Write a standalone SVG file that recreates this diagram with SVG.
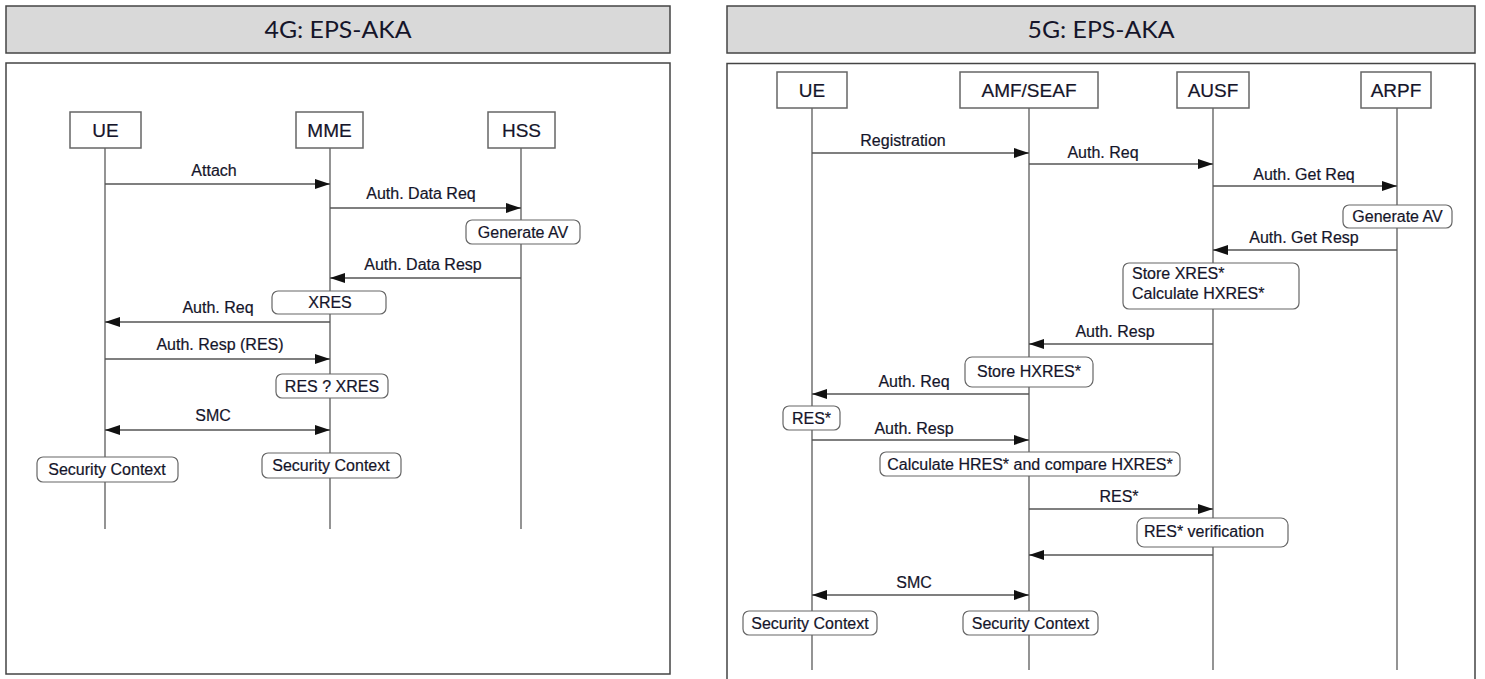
<svg xmlns="http://www.w3.org/2000/svg" width="1485" height="679" viewBox="0 0 1485 679">
  <defs>
    <marker id="arr" viewBox="0 0 15 10" refX="15" refY="5" markerWidth="15" markerHeight="10" markerUnits="userSpaceOnUse" orient="auto-start-reverse">
      <path d="M0,0 L15,5 L0,10 z" fill="#111"/>
    </marker>
    <style>
      .title { fill:#d9d9d9; stroke:#444; stroke-width:1.5; }
      .panel { fill:#fff; stroke:#444; stroke-width:1.5; }
      .ttext { font-family:Lato, "Liberation Sans", sans-serif; font-size:23px; fill:#15152a; text-anchor:middle; }
      .actor { fill:#fff; stroke:#666; stroke-width:1.5; }
      .atext { font-family:"Liberation Sans", Arial, sans-serif; font-size:19px; fill:#15152a; stroke:#15152a; stroke-width:0.2; text-anchor:middle; }
      .life { stroke:#666; stroke-width:1.4; fill:none; }
      .msg { stroke:#555; stroke-width:1.5; fill:none; marker-end:url(#arr); }
      .both { marker-start:url(#arr); }
      .lbl { font-family:"Liberation Sans", Arial, sans-serif; font-size:16px; fill:#15152a; stroke:#15152a; stroke-width:0.2; text-anchor:middle; }
      .note { fill:#fff; stroke:#666; stroke-width:1.2; }
      .ntext { font-family:"Liberation Sans", Arial, sans-serif; font-size:16px; fill:#15152a; stroke:#15152a; stroke-width:0.2; text-anchor:middle; }
      .ltext { text-anchor:start; }
    </style>
  </defs>

  <!-- ===== 4G panel ===== -->
  <g id="panel-4g">
    <rect class="title" x="6" y="6" width="664" height="47"/>
    <text class="ttext" x="338" y="38" textLength="147" lengthAdjust="spacingAndGlyphs">4G: EPS-AKA</text>
    <rect class="panel" x="6" y="63" width="664" height="611"/>
  </g>

  <g id="ue-4g">
    <rect class="actor" x="70" y="112" width="71" height="36"/>
    <text class="atext" x="105.5" y="137">UE</text>
  </g>
  <g id="mme-4g">
    <rect class="actor" x="296" y="112" width="67" height="36"/>
    <text class="atext" x="329.5" y="137">MME</text>
  </g>
  <g id="hss-4g">
    <rect class="actor" x="488" y="112" width="67" height="36"/>
    <text class="atext" x="521.5" y="137">HSS</text>
  </g>

  <g id="lifelines-4g">
    <line class="life" x1="105" y1="148" x2="105" y2="529"/>
    <line class="life" x1="330" y1="148" x2="330" y2="529"/>
    <line class="life" x1="521" y1="148" x2="521" y2="529"/>
  </g>

  <g id="notes-4g">
    <g id="n4-genav">
      <rect class="note" x="466" y="220" width="114" height="24" rx="6"/>
      <text class="ntext" x="523" y="238">Generate AV</text>
    </g>
    <g id="n4-xres">
      <rect class="note" x="272" y="291" width="114" height="23" rx="6"/>
      <text class="ntext" x="330" y="308">XRES</text>
    </g>
    <g id="n4-cmp">
      <rect class="note" x="276" y="374" width="112" height="24" rx="6"/>
      <text class="ntext" x="332" y="392">RES ? XRES</text>
    </g>
    <g id="n4-sc-ue">
      <rect class="note" x="37" y="457" width="141" height="25" rx="6"/>
      <text class="ntext" x="107" y="475">Security Context</text>
    </g>
    <g id="n4-sc-mme">
      <rect class="note" x="262" y="453" width="139" height="25" rx="6"/>
      <text class="ntext" x="331" y="471">Security Context</text>
    </g>
  </g>

  <g id="connectors-4g">
    <line class="msg" x1="105" y1="184" x2="330" y2="184"/>
    <text class="lbl" x="214" y="176">Attach</text>
    <line class="msg" x1="330" y1="208" x2="521" y2="208"/>
    <text class="lbl" x="421" y="199">Auth. Data Req</text>
    <line class="msg" x1="521" y1="278" x2="330" y2="278"/>
    <text class="lbl" x="423" y="270">Auth. Data Resp</text>
    <line class="msg" x1="330" y1="322" x2="105" y2="322"/>
    <text class="lbl" x="218" y="313">Auth. Req</text>
    <line class="msg" x1="105" y1="359" x2="330" y2="359"/>
    <text class="lbl" x="220" y="350">Auth. Resp (RES)</text>
    <line class="msg both" x1="105" y1="430" x2="330" y2="430"/>
    <text class="lbl" x="213" y="421">SMC</text>
  </g>

  <!-- ===== 5G panel ===== -->
  <g id="panel-5g">
    <rect class="title" x="727" y="6" width="748" height="47"/>
    <text class="ttext" x="1101" y="38" textLength="147" lengthAdjust="spacingAndGlyphs">5G: EPS-AKA</text>
    <path class="panel" d="M727,685 V63.5 H1475 V685"/>
  </g>

  <g id="ue-5g">
    <rect class="actor" x="777" y="72" width="70" height="36"/>
    <text class="atext" x="812" y="97">UE</text>
  </g>
  <g id="amf-5g">
    <rect class="actor" x="960" y="72" width="138" height="36"/>
    <text class="atext" x="1029" y="97">AMF/SEAF</text>
  </g>
  <g id="ausf-5g">
    <rect class="actor" x="1177" y="72" width="72" height="36"/>
    <text class="atext" x="1213" y="97">AUSF</text>
  </g>
  <g id="arpf-5g">
    <rect class="actor" x="1361" y="72" width="70" height="36"/>
    <text class="atext" x="1396" y="97">ARPF</text>
  </g>

  <g id="lifelines-5g">
    <line class="life" x1="812" y1="108" x2="812" y2="670"/>
    <line class="life" x1="1029" y1="108" x2="1029" y2="670"/>
    <line class="life" x1="1213" y1="108" x2="1213" y2="670"/>
    <line class="life" x1="1397" y1="108" x2="1397" y2="670"/>
  </g>

  <g id="notes-5g">
    <g id="n5-genav">
      <rect class="note" x="1343" y="205" width="109" height="23" rx="6"/>
      <text class="ntext" x="1397.5" y="222">Generate AV</text>
    </g>
    <g id="n5-store-xres">
      <rect class="note" x="1123" y="263" width="176" height="46" rx="6"/>
      <text class="ntext ltext" x="1132" y="279">Store XRES*</text>
      <text class="ntext ltext" x="1132" y="299">Calculate HXRES*</text>
    </g>
    <g id="n5-store-hxres">
      <rect class="note" x="965" y="357" width="128" height="30" rx="7"/>
      <text class="ntext" x="1029" y="377">Store HXRES*</text>
    </g>
    <g id="n5-res">
      <rect class="note" x="783" y="406" width="57" height="24" rx="6"/>
      <text class="ntext" x="811.5" y="424">RES*</text>
    </g>
    <g id="n5-calc">
      <rect class="note" x="880" y="452" width="300" height="24" rx="6"/>
      <text class="ntext" x="1030" y="470">Calculate HRES* and compare HXRES*</text>
    </g>
    <g id="n5-verif">
      <rect class="note" x="1137" y="518" width="151" height="29" rx="7"/>
      <text class="ntext ltext" x="1144" y="537">RES* verification</text>
    </g>
    <g id="n5-sc-ue">
      <rect class="note" x="743" y="611" width="134" height="24" rx="6"/>
      <text class="ntext" x="810" y="629">Security Context</text>
    </g>
    <g id="n5-sc-amf">
      <rect class="note" x="963" y="611" width="135" height="24" rx="6"/>
      <text class="ntext" x="1030.5" y="629">Security Context</text>
    </g>
  </g>

  <g id="connectors-5g">
    <line class="msg" x1="812" y1="153" x2="1029" y2="153"/>
    <text class="lbl" x="903" y="146">Registration</text>
    <line class="msg" x1="1029" y1="164" x2="1213" y2="164"/>
    <text class="lbl" x="1103" y="158">Auth. Req</text>
    <line class="msg" x1="1213" y1="186" x2="1397" y2="186"/>
    <text class="lbl" x="1304" y="180">Auth. Get Req</text>
    <line class="msg" x1="1397" y1="250" x2="1213" y2="250"/>
    <text class="lbl" x="1304" y="243">Auth. Get Resp</text>
    <line class="msg" x1="1213" y1="344" x2="1029" y2="344"/>
    <text class="lbl" x="1115" y="337">Auth. Resp</text>
    <line class="msg" x1="1029" y1="394" x2="812" y2="394"/>
    <text class="lbl" x="914" y="387">Auth. Req</text>
    <line class="msg" x1="812" y1="440" x2="1029" y2="440"/>
    <text class="lbl" x="914" y="434">Auth. Resp</text>
    <line class="msg" x1="1029" y1="509" x2="1213" y2="509"/>
    <text class="lbl" x="1119" y="502">RES*</text>
    <line class="msg" x1="1213" y1="555" x2="1029" y2="555"/>
    <line class="msg both" x1="812" y1="595" x2="1029" y2="595"/>
    <text class="lbl" x="914" y="588">SMC</text>
  </g>
</svg>
